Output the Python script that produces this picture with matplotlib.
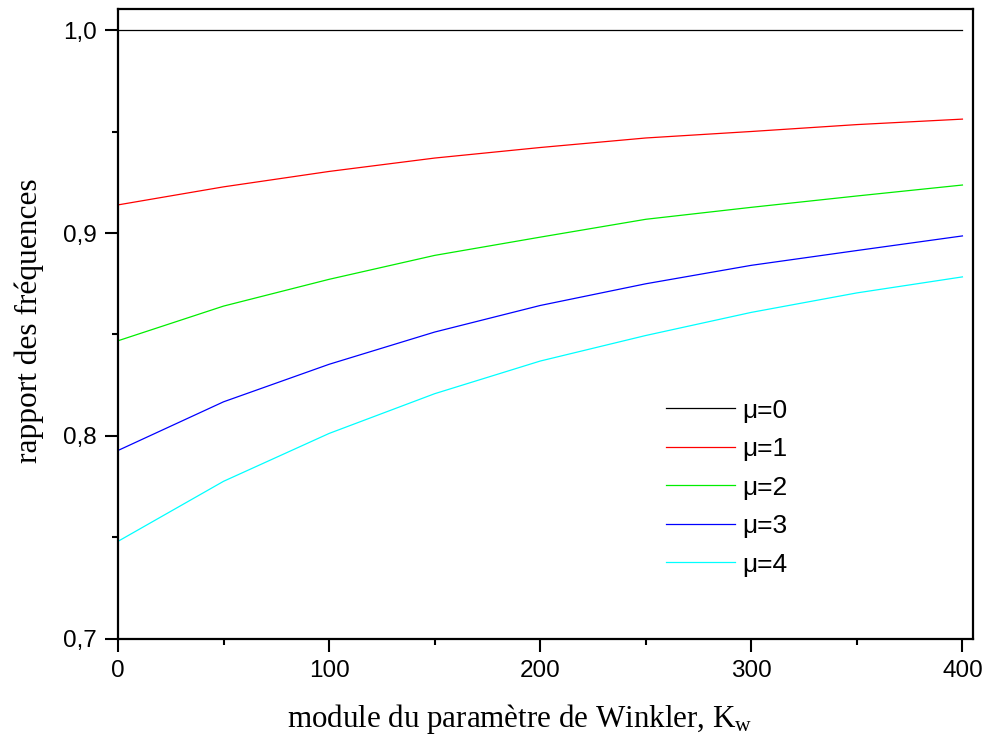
import matplotlib
matplotlib.use("Agg")
import matplotlib.pyplot as plt
from matplotlib.ticker import MultipleLocator

plt.rcParams['font.family'] = ['Liberation Sans', 'DejaVu Sans']
plt.rcParams['mathtext.fontset'] = 'custom'
plt.rcParams['mathtext.rm'] = 'Liberation Serif'
plt.rcParams['mathtext.it'] = 'Liberation Serif:italic'

kw = [0, 50, 100, 150, 200, 250, 300, 350, 400]
mu0 = [1.0, 1.0, 1.0, 1.0, 1.0, 1.0, 1.0, 1.0, 1.0]
mu1 = [0.9139, 0.9228, 0.9304, 0.9370, 0.9422, 0.9469, 0.9501, 0.9535, 0.9562]
mu2 = [0.8469, 0.8640, 0.8772, 0.8890, 0.8980, 0.9068, 0.9127, 0.9183, 0.9237]
mu3 = [0.7928, 0.8168, 0.8353, 0.8512, 0.8643, 0.8750, 0.8841, 0.8914, 0.8986]
mu4 = [0.7480, 0.7776, 0.8012, 0.8208, 0.8369, 0.8495, 0.8609, 0.8705, 0.8784]
series = [mu0, mu1, mu2, mu3, mu4]
labels = ['μ=0', 'μ=1', 'μ=2', 'μ=3', 'μ=4']
colors = ['#000000', '#ff0000', '#00ee00', '#0000ff', '#00ffff']

xticks = [0, 100, 200, 300, 400]
yticks = [0.7, 0.8, 0.9, 1.0]
yticklabels = ['0,7', '0,8', '0,9', '1,0']

fig = plt.figure(figsize=(9.85, 7.38), dpi=100)
ax = fig.add_axes([0.1198, 0.1346, 0.868, 0.8532])

for y, lab, c in zip(series, labels, colors):
    ax.plot(kw, y, color=c, lw=0.9, label=lab)

ax.set_xlim(0, 405)
ax.set_ylim(0.7, 1.0105)
ax.set_xticks(xticks)
ax.set_xticklabels([str(t) for t in xticks])
ax.set_yticks(yticks)
ax.set_yticklabels(yticklabels)
ax.xaxis.set_minor_locator(MultipleLocator(50))
ax.yaxis.set_minor_locator(MultipleLocator(0.05))
ax.tick_params(which='major', direction='out', length=9.5, width=1.5, labelsize=17.5, pad=6)
ax.tick_params(which='minor', direction='out', length=4.5, width=1.5)
ax.tick_params(top=False, right=False, which='both')
for s in ax.spines.values():
    s.set_linewidth(1.6)

ax.set_xlabel(r'module du paramètre de Winkler, K$_{\mathregular{w}}$',
              family='Liberation Serif', fontsize=22.3)
ax.xaxis.set_label_coords(0.47, -0.101, transform=ax.transAxes)
ax.xaxis.label.set_va('top')
ax.set_ylabel('rapport des fréquences', family='Liberation Serif', fontsize=22.6)
ax.yaxis.set_label_coords(-0.086, 0.505, transform=ax.transAxes)

leg = ax.legend(loc='center left', bbox_to_anchor=(0.641, 0.240), frameon=False,
                fontsize=19, handlelength=2.6, handletextpad=0.27, labelspacing=0.55,
                borderpad=0, borderaxespad=0)

fig.savefig('out.png', dpi=100)
